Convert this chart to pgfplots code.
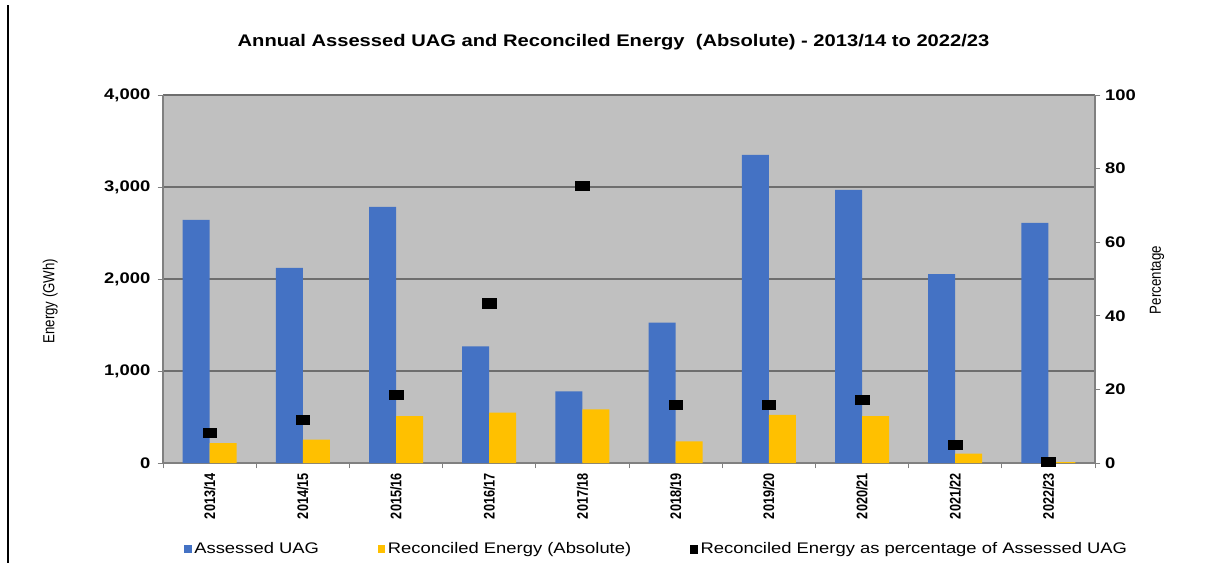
\documentclass[border=0pt]{standalone}
\usepackage{fontspec}
\setmainfont{Liberation Sans}[FakeStretch=1.2]
\newfontfamily\rotfont{Liberation Sans}[FakeStretch=0.83]
\usepackage{pgfplots}
\pgfplotsset{compat=1.18}
\definecolor{uagblue}{HTML}{4472C4}
\definecolor{recyellow}{HTML}{FFC000}
\definecolor{bggray}{HTML}{C0C0C0}
\definecolor{gridgray}{HTML}{6E6E6E}
\definecolor{axgray}{HTML}{808080}

\pgfplotstableread{
x uag rec pct
0 2642 217 8.2
1 2121 253 11.8
2 2783 510 18.6
3 1267 547 43.4
4 778 583 75.4
5 1525 235 15.8
6 3348 522 15.8
7 2970 509 17.2
8 2052 101 4.9
9 2609 10 0.3
}\uagdata

\pgfplotsset{common/.style={at={(0,0)}, anchor=south west, scale only axis,
  width=699pt, height=276pt, xmin=-0.5, xmax=9.5,
  tick align=outside, major tick length=4pt,
  tick style={axgray, line width=0.6pt},
  /pgf/number format/assume math mode=true,
  /pgf/number format/1000 sep={,},
  yticklabel style={font=\fontsize{11.5}{13}\selectfont\bfseries}}}

\begin{document}
\begin{tikzpicture}
\path[use as bounding box] (-122.25pt,-75pt) rectangle (786.75pt,347.25pt);
\draw[black, line width=0.9pt] (-116.25pt,-75pt) -- (-116.25pt,343.5pt);
\node[font=\fontsize{12.6}{14}\selectfont\bfseries] at (337.9pt,315.75pt)
  {Annual Assessed UAG and Reconciled Energy\ \ (Absolute) - 2013/14 to 2022/23};

\begin{axis}[common,
  ymin=0, ymax=4000, ytick={0,1000,2000,3000,4000},
  axis background/.style={fill=bggray},
  axis y line*=left, axis x line*=bottom,
  axis line style={axgray, line width=0.8pt},
  ymajorgrids, major grid style={gridgray, line width=0.8pt},
  ybar=0pt, bar width=20.25pt,
  xtick={-0.5,0.5,...,9.5}, x tick label as interval,
  xticklabels={2013/14,2014/15,2015/16,2016/17,2017/18,2018/19,2019/20,2020/21,2021/22,2022/23},
  xticklabel style={rotate=90, anchor=east, font=\rotfont\fontsize{11.5}{13}\selectfont\bfseries},
  yticklabel style={xshift=-2pt},
  ylabel={Energy (GWh)},
  ylabel style={at={(axis description cs:-0.121,0.44)}, rotate=0, anchor=center,
    font=\rotfont\fontsize{12}{14}\selectfont},
  ]
\addplot[fill=uagblue, draw=none] table[x=x, y=uag] {\uagdata};
\addplot[fill=recyellow, draw=none] table[x=x, y=rec] {\uagdata};
\end{axis}

\begin{axis}[common,
  ymin=0, ymax=100, ytick={0,20,...,100},
  axis x line=none, axis y line*=right,
  axis line style={axgray, line width=0.8pt},
  ylabel={Percentage},
  ylabel style={at={(axis description cs:1.0665,0.497)}, rotate=0, anchor=center,
    font=\rotfont\fontsize{12}{14}\selectfont},
  legend columns=3,
  legend style={draw=none, fill=none, at={(axis description cs:0.53,-0.234)}, anchor=center,
    font=\fontsize{11.5}{13}\selectfont, /tikz/every even column/.append style={column sep=42pt}},
  legend image code/.code={\fill[#1] (0pt,-2.8pt) rectangle (5.6pt,2.8pt);},
  ]
\addlegendimage{fill=uagblue, draw=none}
\addlegendentry{Assessed UAG}
\addlegendimage{fill=recyellow, draw=none}
\addlegendentry{Reconciled Energy (Absolute)}
\addplot[only marks, mark=square*, mark size=3.4pt, mark options={xscale=1.5, fill=black, draw=black}]
  table[x=x, y=pct] {\uagdata};
\addlegendentry{Reconciled Energy as percentage of Assessed UAG}
\end{axis}
\end{tikzpicture}
\end{document}
